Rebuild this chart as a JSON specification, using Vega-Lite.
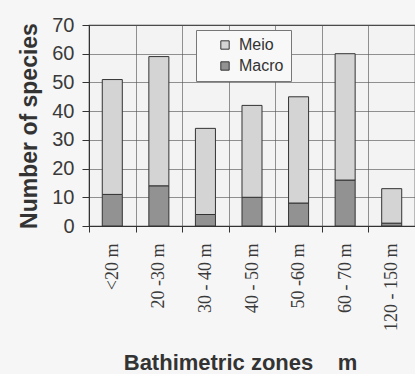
{
  "$schema": "https://vega.github.io/schema/vega-lite/v6.json",
  "autosize": "none",
  "width": 326,
  "height": 201,
  "padding": {"left": 89, "top": 25, "right": 0, "bottom": 148},
  "background": "#f6f6f6",
  "config": {
    "view": {"stroke": "#3a3a3a", "strokeWidth": 1.2, "fill": "#f3f3f3"},
    "axis": {"domainColor": "#333", "tickColor": "#333", "gridColor": "#555", "gridOpacity": 0.8, "gridWidth": 0.8}
  },
  "data": {
    "values": [
      {"zone": "<20 m", "group": "Macro", "species": 11},
      {"zone": "<20 m", "group": "Meio", "species": 40},
      {"zone": "20 -30 m", "group": "Macro", "species": 14},
      {"zone": "20 -30 m", "group": "Meio", "species": 45},
      {"zone": "30 - 40 m", "group": "Macro", "species": 4},
      {"zone": "30 - 40 m", "group": "Meio", "species": 30},
      {"zone": "40 - 50 m", "group": "Macro", "species": 10},
      {"zone": "40 - 50 m", "group": "Meio", "species": 32},
      {"zone": "50 -60 m", "group": "Macro", "species": 8},
      {"zone": "50 -60 m", "group": "Meio", "species": 37},
      {"zone": "60 - 70 m", "group": "Macro", "species": 16},
      {"zone": "60 - 70 m", "group": "Meio", "species": 44},
      {"zone": "120 - 150 m", "group": "Macro", "species": 1},
      {"zone": "120 - 150 m", "group": "Meio", "species": 12}
    ]
  },
  "mark": {"type": "bar", "stroke": "#333", "strokeWidth": 1, "width": {"band": 0.43}},
  "encoding": {
    "x": {
      "field": "zone", "type": "nominal", "sort": null,
      "scale": {"paddingInner": 0, "paddingOuter": 0},
      "axis": {
        "title": "Bathimetric zones\u00a0\u00a0\u00a0 m",
        "titleFont": "Liberation Sans", "titleFontSize": 22, "titleFontWeight": "bold", "titleColor": "#333",
        "titlePadding": 22, "titleX": 151, "titleAlign": "center",
        "labelAngle": -90, "labelAlign": "right", "labelBaseline": "middle",
        "labelFont": "Liberation Serif", "labelFontSize": 18, "labelColor": "#3a3a3a", "labelPadding": 11,
        "tickBand": "extent", "tickSize": 6, "grid": true, "domain": true
      }
    },
    "y": {
      "field": "species", "type": "quantitative", "aggregate": "sum", "stack": "zero",
      "scale": {"domain": [0, 70]},
      "axis": {
        "title": "Number of species",
        "titleFont": "Liberation Sans", "titleFontSize": 23, "titleFontWeight": "bold", "titleColor": "#333",
        "titlePadding": 10,
        "values": [0, 10, 20, 30, 40, 50, 60, 70],
        "labelFont": "Liberation Sans", "labelFontSize": 20, "labelColor": "#3a3a3a", "labelPadding": 8,
        "tickSize": 7, "grid": true
      }
    },
    "color": {
      "field": "group", "type": "nominal",
      "scale": {"domain": ["Meio", "Macro"], "range": ["#d4d4d4", "#929292"]},
      "legend": {
        "title": null, "orient": "none", "legendX": 107, "legendY": 5,
        "fillColor": "#f8f8f8", "strokeColor": "#777", "padding": 7,
        "symbolType": "square", "symbolSize": 70, "symbolStrokeColor": "#333", "symbolStrokeWidth": 1,
        "symbolOffset": 14,
        "labelFont": "Liberation Sans", "labelFontSize": 16, "labelColor": "#333",
        "rowPadding": 5, "labelOffset": 6
      }
    },
    "order": {"field": "group", "sort": "ascending"}
  }
}
